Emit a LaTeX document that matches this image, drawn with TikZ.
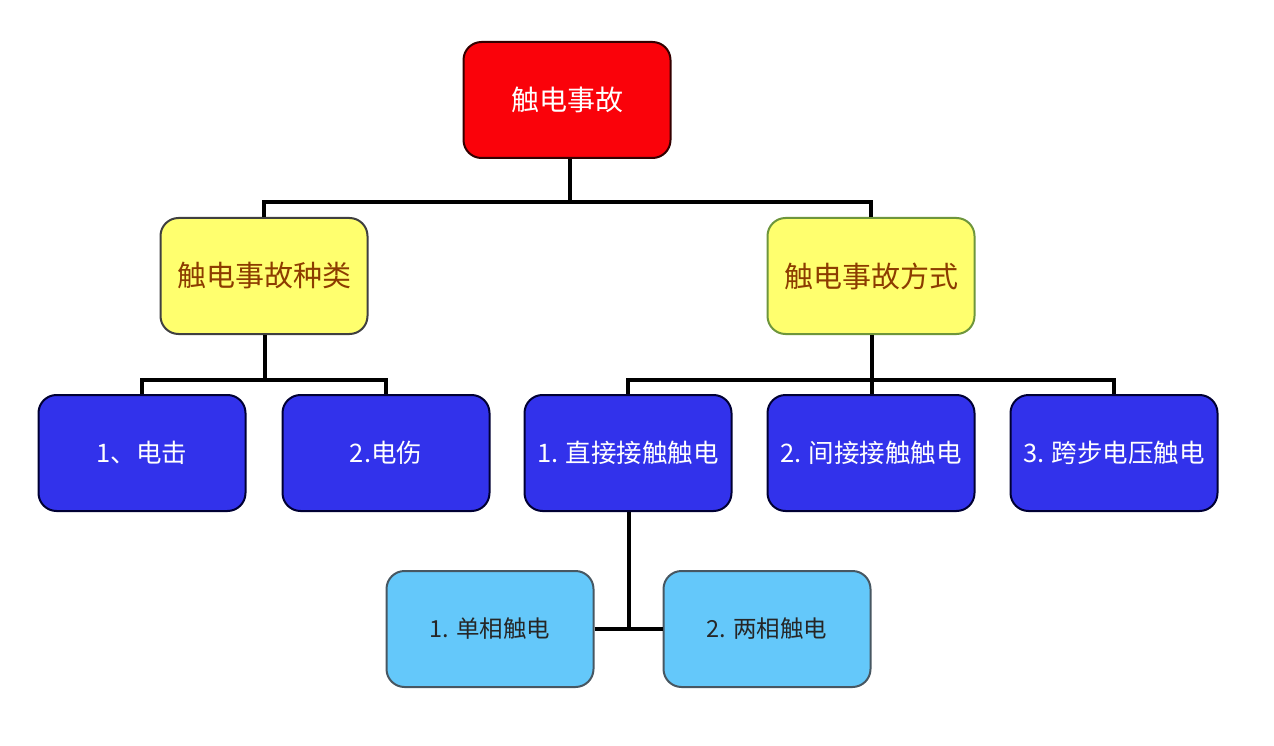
\documentclass[tikz,border=0pt]{standalone}
\usepackage{fontspec}
\newfontfamily\cjk{Noto Sans CJK SC}
\begin{document}
\begin{tikzpicture}[x=1pt,y=-1pt,
  box/.style={rounded corners=18pt, line width=2pt, minimum width=207pt, minimum height=116pt, inner sep=0pt, font=\cjk},
  redbox/.style={box, draw=black!80!red, fill={rgb,255:red,250;green,2;blue,10}, text=white, font=\cjk\fontsize{28}{30}\selectfont},
  yelbox/.style={box, draw=black!75, fill={rgb,255:red,255;green,255;blue,110}, text={rgb,255:red,140;green,60;blue,0}, font=\cjk\fontsize{29}{32}\selectfont},
  bluebox/.style={box, draw=black!80!blue, fill={rgb,255:red,50;green,50;blue,235}, text=white, font=\cjk\fontsize{25.5}{28}\selectfont},
  lbbox/.style={box, draw=black!70!cyan, fill={rgb,255:red,100;green,200;blue,250}, text=black!85, font=\cjk\fontsize{23.5}{26}\selectfont},
  conn/.style={line width=3.5pt, draw=black}]
\fill[white] (0,0) rectangle (1274,746);
\useasboundingbox (0,0) rectangle (1274,746);
\node[redbox] (top) at (567,100) {触电事故};
\node[yelbox] (kind) at (264,276) {触电事故种类};
\node[yelbox, draw={rgb,255:red,110;green,150;blue,60}] (way) at (871,276) {触电事故方式};
\node[bluebox] (b1) at (142,453) {1、电击};
\node[bluebox] (b2) at (386,453) {2.电伤};
\node[bluebox] (b3) at (628,453) {1. 直接接触触电};
\node[bluebox] (b4) at (871,453) {2. 间接接触触电};
\node[bluebox] (b5) at (1114,453) {3. 跨步电压触电};
\node[lbbox] (c1) at (490,629) {1. 单相触电};
\node[lbbox] (c2) at (767,629) {2. 两相触电};
\coordinate (j1) at (570,202);
\coordinate (j2) at (265,380);
\coordinate (j3) at (872,380);
\coordinate (j4) at (629,629);
\draw[conn] (top.south -| j1) -- (j1);
\draw[conn] (kind.north) |- (j1) -| (way.north);
\draw[conn] (kind.south -| j2) -- (j2);
\draw[conn] (b1.north) |- (j2) -| (b2.north);
\draw[conn] (way.south -| j3) -- (j3);
\draw[conn] (b3.north) |- (j3) -| (b5.north);
\draw[conn] (j3) -- (b4.north -| j3);
\draw[conn] (b3.south -| j4) -- (j4);
\draw[conn] (c1.east) -- (c2.west);
\end{tikzpicture}
\end{document}
